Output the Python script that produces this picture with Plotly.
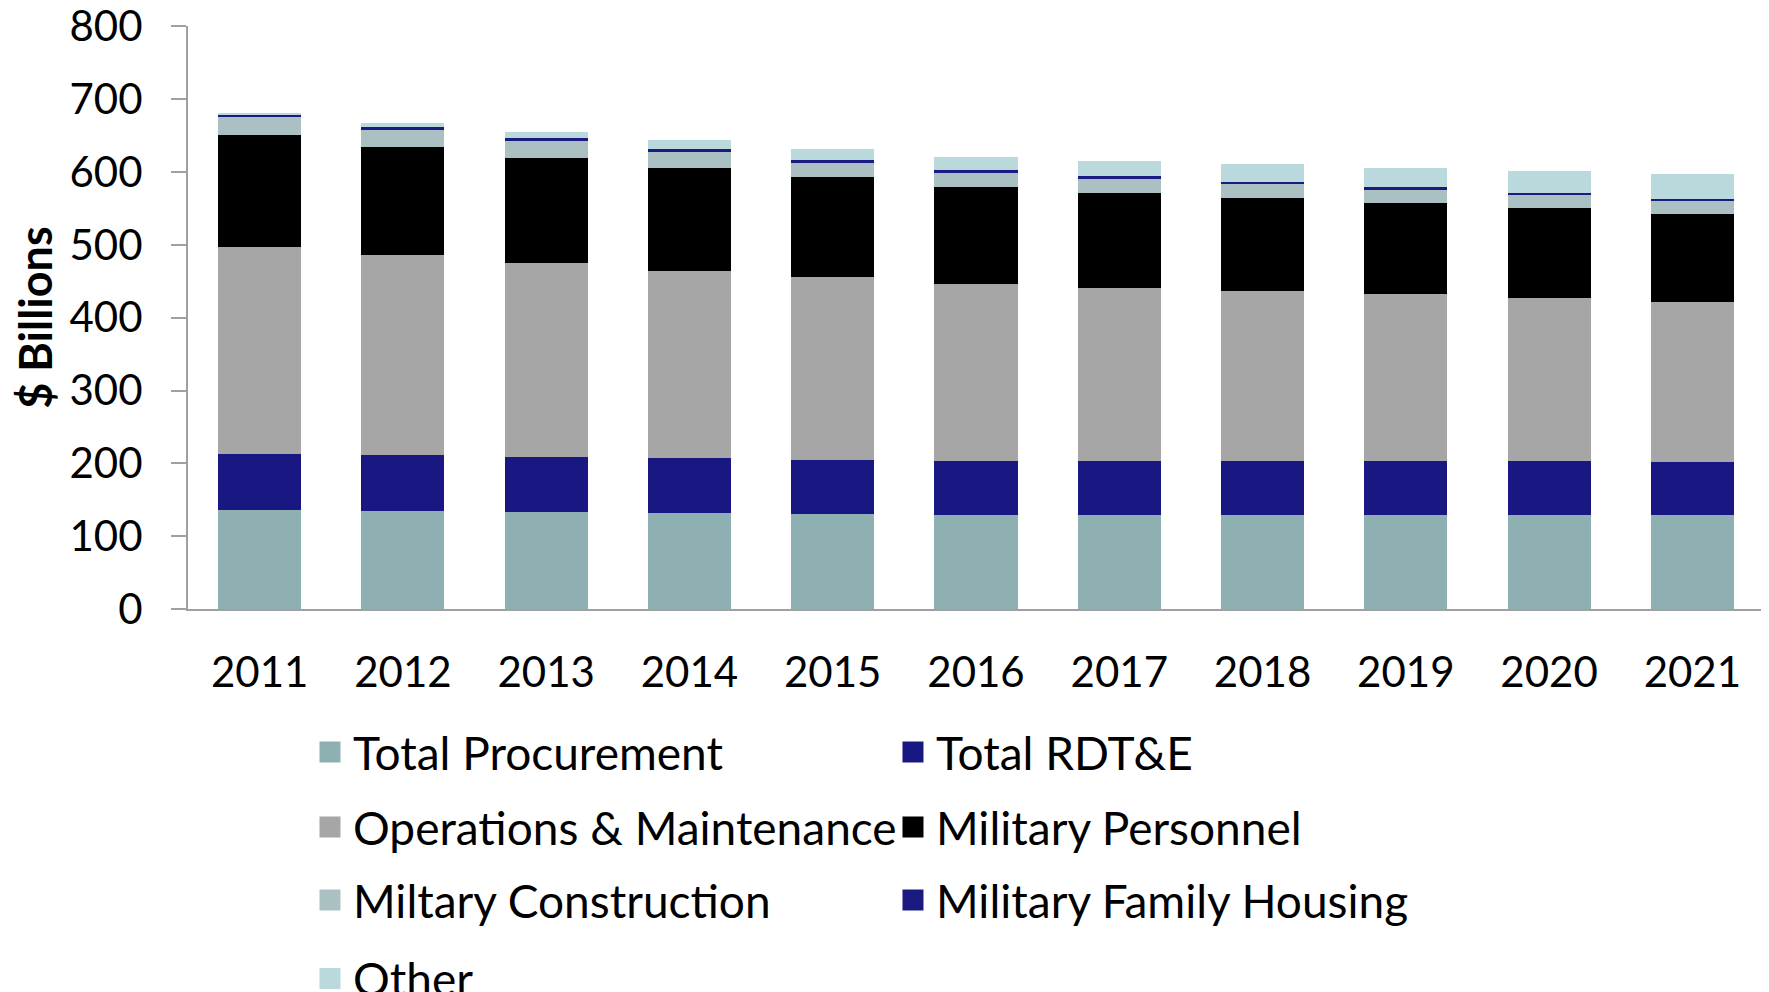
import plotly.graph_objects as go

years = ["2011", "2012", "2013", "2014", "2015", "2016", "2017", "2018", "2019", "2020", "2021"]

procurement = [136.2, 134.8, 133.5, 131.7, 130.3, 128.9, 128.9, 128.9, 128.9, 128.9, 128.9]
rdte = [76.8, 76.9, 75.5, 75.4, 74.1, 74.1, 74.1, 74.1, 74.1, 74.1, 72.7]
operations = [284.4, 274.3, 266.7, 257.6, 251.4, 243.2, 237.7, 233.6, 229.5, 224.0, 219.9]
personnel = [153.2, 148.8, 144.0, 141.2, 137.2, 133.1, 130.5, 127.4, 124.7, 123.4, 120.7]
construction = [25.1, 24.0, 24.1, 22.8, 20.6, 20.6, 20.5, 19.4, 19.4, 18.1, 18.0]
housing = [3.7, 2.7, 2.7, 2.7, 2.4, 2.4, 2.7, 2.8, 2.7, 2.7, 2.8]
other = [0.3, 5.5, 8.2, 12.4, 15.4, 18.2, 20.4, 24.5, 25.9, 29.9, 34.0]

series_names = ["Total Procurement", "Total RDT&E", "Operations & Maintenance",
                "Military Personnel", "Miltary Construction", "Military Family Housing", "Other"]
series_values = [procurement, rdte, operations, personnel, construction, housing, other]
series_colors = ["#8eb0b2", "#191882", "#a6a6a6", "#000000", "#aac0c3", "#1a1a80", "#b9d9dc"]
# legend row each series sits in (two entries per row, as in the original)
legend_rows = ["legend", "legend", "legend2", "legend2", "legend3", "legend3", "legend4"]

y_ticks = [0, 100, 200, 300, 400, 500, 600, 700, 800]

FONT = "Lato"

fig = go.Figure()
for name, vals, col in zip(series_names, series_values, series_colors):
    fig.add_trace(go.Bar(
        x=years, y=vals, name=name, showlegend=False,
        marker=dict(color=col, line=dict(width=0)),
    ))

# legend-only entries (larger square swatches)
for name, col, lg in zip(series_names, series_colors, legend_rows):
    fig.add_trace(go.Scatter(
        x=[None], y=[None], mode="markers", name=name, legend=lg,
        marker=dict(symbol="square", size=16, color=col, line=dict(color=col, width=5)),
        hoverinfo="skip",
    ))

leg_common = dict(
    orientation="h",
    x=0.0755, xanchor="left",
    yanchor="middle",
    traceorder="normal",
    entrywidth=532,
    itemwidth=36,
    bgcolor="rgba(0,0,0,0)",
    font=dict(family=FONT, size=46, color="black"),
)

fig.update_layout(
    width=1769, height=992,
    barmode="stack",
    bargap=0.42,
    paper_bgcolor="white",
    plot_bgcolor="white",
    margin=dict(l=180, r=13, t=18, b=391, autoexpand=False),
    font=dict(family=FONT, size=42, color="black"),
    showlegend=True,
    legend=dict(y=-0.2453, **leg_common),
    legend2=dict(y=-0.374, **leg_common),
    legend3=dict(y=-0.4991, **leg_common),
    legend4=dict(y=-0.634, **leg_common),
)

fig.update_yaxes(
    range=[0, 800.5],
    tickvals=y_ticks,
    ticktext=[str(v) for v in y_ticks],
    showgrid=False,
    zeroline=False,
    showline=True, linecolor="#a0a0a0", linewidth=2,
    ticks="outside", ticklen=15, tickcolor="#a0a0a0", tickwidth=2,
    ticklabelstandoff=20,
    ticklabeloverflow="allow",
    tickfont=dict(family=FONT, size=42, color="black"),
    title=dict(text="<b>$ Billions</b>", font=dict(family=FONT, size=45, color="black"), standoff=4),
)
fig.update_xaxes(
    type="category",
    showgrid=False,
    showline=True, linecolor="#a0a0a0", linewidth=2,
    ticks="",
    ticklabelstandoff=26,
    tickfont=dict(family=FONT, size=42, color="black"),
)

fig.write_html("out.html")
